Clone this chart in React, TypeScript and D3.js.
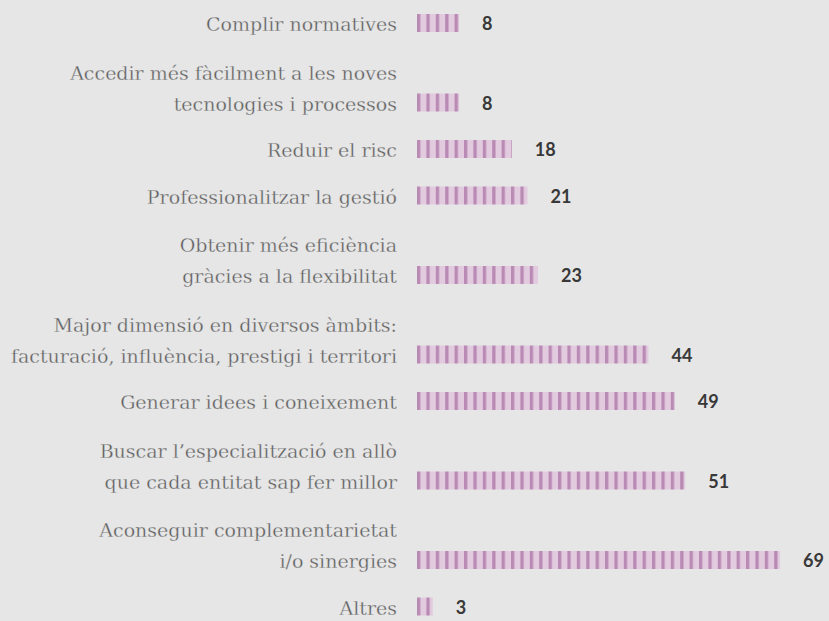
import React from "react";
import * as d3 from "d3";

const categories: string[][] = [
  ["Complir normatives"],
  ["Accedir més fàcilment a les noves", "tecnologies i processos"],
  ["Reduir el risc"],
  ["Professionalitzar la gestió"],
  ["Obtenir més eficiència", "gràcies a la flexibilitat"],
  ["Major dimensió en diversos àmbits:", "facturació, influència, prestigi i territori"],
  ["Generar idees i coneixement"],
  ["Buscar l’especialització en allò", "que cada entitat sap fer millor"],
  ["Aconseguir complementarietat", "i/o sinergies"],
  ["Altres"],
];
const values: number[] = [8, 8, 18, 21, 23, 44, 49, 51, 69, 3];

const W = 829;
const H = 621;
const BG = "#e6e6e6";
const LIGHT = "#e2cbde";
const DARK = "#b98ab4";

export default function App() {
  const x = d3.scaleLinear().domain([0, 69]).range([417, 780]);
  const baseStep = 46.5;
  const extraLine = 33;
  const lineGap = 31;
  const centers: number[] = [];
  categories.forEach((lines, i) => {
    if (i === 0) centers.push(23);
    else centers.push(centers[i - 1] + baseStep + extraLine * (lines.length - 1));
  });
  const barH = 18;
  const x0 = x(0);

  return (
    <svg
      width={W}
      height={H}
      style={{ position: "fixed", left: 0, top: 0, background: BG }}
    >
      <defs>
        <pattern
          id="stripes"
          patternUnits="userSpaceOnUse"
          x={x0}
          y={0}
          width={9.4}
          height={H}
        >
          <rect x={0} y={0} width={9.4} height={H} fill={LIGHT} />
          <rect x={0} y={0} width={3.3} height={H} fill={DARK} />
        </pattern>
      </defs>
      <rect x={0} y={0} width={W} height={H} fill={BG} />
      {categories.map((lines, i) => {
        const cy = centers[i];
        const n = lines.length;
        return (
          <g key={i}>
            {lines.map((ln, j) => (
              <text
                key={j}
                x={397}
                y={cy + 8 - (n - 1 - j) * lineGap}
                textAnchor="end"
                fontFamily="'DejaVu Serif', serif"
                fontSize={19}
                fill="#5e5e5e"
                stroke={BG}
                strokeWidth={0.3}
              >
                {ln}
              </text>
            ))}
            <rect
              x={x0}
              y={cy - barH / 2}
              width={x(values[i]) - x0}
              height={barH}
              fill="url(#stripes)"
            />
            <text
              x={x(values[i]) + 23}
              y={cy + 7}
              fontFamily="Lato, 'Open Sans', sans-serif"
              fontWeight={700}
              fontSize={18}
              fill="#383838"
            >
              {values[i]}
            </text>
          </g>
        );
      })}
    </svg>
  );
}
